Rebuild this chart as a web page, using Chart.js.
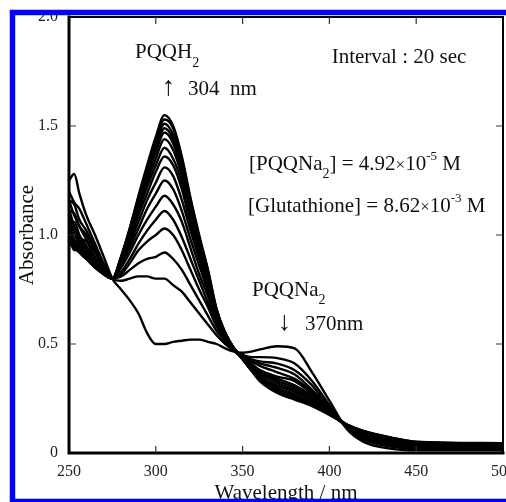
<!DOCTYPE html>
<html>
<head>
<meta charset="utf-8">
<script src="https://cdn.jsdelivr.net/npm/chart.js@4.4.0/dist/chart.umd.min.js"></script>
<style>
  html, body { margin: 0; padding: 0; background: #fff; }
  #wrap { width: 506px; height: 502px; position: relative; }
</style>
</head>
<body>
<div id="wrap"><canvas id="spectra"></canvas></div>
<script>
// ── DATA ─────────────────────────────────────────────────────────────
const wavelengths = [250, 253, 256, 260, 265, 270, 275, 280, 285, 290, 295, 300, 305, 310, 315, 320,
  325, 330, 335, 340, 345, 350, 355, 360, 370, 380, 390, 400, 410, 420, 435, 450, 500];

// one spectrum every 20 sec
const s0   = [1.25, 1.28, 1.19, 1.09, 1.00, 0.90, 0.80, 0.75, 0.70, 0.64, 0.55, 0.50, 0.50, 0.51, 0.515, 0.52,
  0.52, 0.51, 0.50, 0.48, 0.465, 0.46, 0.465, 0.475, 0.49, 0.48, 0.37, 0.24, 0.11, 0.05, 0.02, 0.012, 0.012];
const s20  = [1.20, 1.15, 1.12, 1.05, 0.96, 0.87, 0.80, 0.79, 0.80, 0.81, 0.81, 0.80, 0.80, 0.77, 0.74, 0.69,
  0.64, 0.59, 0.54, 0.50, 0.47, 0.45, 0.44, 0.44, 0.435, 0.41, 0.33, 0.22, 0.115, 0.06, 0.03, 0.018, 0.015];
const s40  = [1.16, 1.14, 1.07, 1.02, 0.94, 0.86, 0.80, 0.81, 0.84, 0.87, 0.89, 0.90, 0.92, 0.89, 0.84, 0.77,
  0.70, 0.63, 0.56, 0.51, 0.47, 0.45, 0.43, 0.42, 0.41, 0.38, 0.31, 0.21, 0.12, 0.066, 0.037, 0.023, 0.02];
const s60  = [1.16, 1.09, 1.04, 1.00, 0.93, 0.85, 0.80, 0.82, 0.87, 0.93, 0.97, 1.00, 1.03, 1.00, 0.93, 0.84,
  0.75, 0.67, 0.58, 0.52, 0.47, 0.44, 0.42, 0.41, 0.39, 0.36, 0.29, 0.21, 0.12, 0.07, 0.043, 0.029, 0.024];
const s80  = [1.11, 1.10, 1.04, 0.98, 0.92, 0.85, 0.80, 0.83, 0.89, 0.96, 1.02, 1.07, 1.11, 1.07, 0.99, 0.89,
  0.79, 0.69, 0.59, 0.52, 0.47, 0.44, 0.42, 0.40, 0.37, 0.34, 0.28, 0.20, 0.12, 0.076, 0.047, 0.032, 0.027];
const s100 = [1.12, 1.04, 0.99, 0.97, 0.90, 0.84, 0.80, 0.85, 0.92, 1.00, 1.07, 1.13, 1.18, 1.14, 1.06, 0.94,
  0.82, 0.72, 0.60, 0.53, 0.47, 0.44, 0.41, 0.38, 0.35, 0.33, 0.27, 0.20, 0.12, 0.08, 0.051, 0.035, 0.03];
const s120 = [1.06, 1.06, 1.00, 0.95, 0.89, 0.84, 0.80, 0.86, 0.94, 1.03, 1.12, 1.19, 1.25, 1.21, 1.11, 0.98,
  0.86, 0.74, 0.61, 0.53, 0.48, 0.44, 0.40, 0.37, 0.34, 0.31, 0.26, 0.19, 0.12, 0.084, 0.055, 0.038, 0.033];
const s140 = [1.09, 1.01, 0.98, 0.94, 0.89, 0.84, 0.80, 0.87, 0.96, 1.06, 1.16, 1.24, 1.31, 1.27, 1.16, 1.02,
  0.89, 0.76, 0.62, 0.53, 0.48, 0.44, 0.40, 0.37, 0.33, 0.30, 0.25, 0.19, 0.125, 0.087, 0.059, 0.041, 0.035];
const s160 = [1.03, 1.03, 0.97, 0.93, 0.88, 0.83, 0.80, 0.87, 0.97, 1.09, 1.19, 1.29, 1.36, 1.32, 1.21, 1.05,
  0.91, 0.78, 0.63, 0.54, 0.48, 0.44, 0.39, 0.36, 0.32, 0.29, 0.24, 0.19, 0.13, 0.09, 0.062, 0.044, 0.038];
const s180 = [1.05, 0.98, 0.94, 0.92, 0.87, 0.83, 0.80, 0.88, 0.98, 1.11, 1.22, 1.32, 1.40, 1.35, 1.24, 1.07,
  0.93, 0.79, 0.64, 0.54, 0.48, 0.43, 0.39, 0.35, 0.31, 0.28, 0.24, 0.18, 0.13, 0.092, 0.064, 0.045, 0.039];
const s200 = [1.00, 1.00, 0.95, 0.91, 0.87, 0.83, 0.80, 0.88, 1.00, 1.13, 1.24, 1.35, 1.44, 1.39, 1.27, 1.10,
  0.95, 0.80, 0.64, 0.54, 0.48, 0.43, 0.39, 0.35, 0.30, 0.27, 0.23, 0.18, 0.13, 0.094, 0.066, 0.047, 0.041];
const s220 = [1.02, 0.96, 0.94, 0.91, 0.86, 0.83, 0.80, 0.89, 1.01, 1.14, 1.26, 1.38, 1.47, 1.42, 1.29, 1.12,
  0.96, 0.81, 0.65, 0.55, 0.48, 0.43, 0.39, 0.34, 0.29, 0.26, 0.23, 0.18, 0.13, 0.096, 0.067, 0.048, 0.042];
const s240 = [0.99, 0.93, 0.96, 0.90, 0.86, 0.82, 0.80, 0.89, 1.01, 1.15, 1.28, 1.40, 1.49, 1.44, 1.31, 1.13,
  0.97, 0.82, 0.65, 0.55, 0.48, 0.43, 0.38, 0.34, 0.29, 0.26, 0.22, 0.18, 0.13, 0.097, 0.069, 0.049, 0.043];
const s260 = [1.01, 0.95, 0.93, 0.90, 0.86, 0.82, 0.80, 0.90, 1.02, 1.16, 1.30, 1.42, 1.51, 1.46, 1.33, 1.15,
  0.98, 0.83, 0.65, 0.55, 0.48, 0.43, 0.38, 0.34, 0.28, 0.25, 0.22, 0.18, 0.13, 0.098, 0.07, 0.05, 0.044];
const s280 = [0.97, 0.94, 0.92, 0.89, 0.85, 0.82, 0.80, 0.90, 1.03, 1.17, 1.31, 1.44, 1.53, 1.49, 1.35, 1.16,
  0.99, 0.84, 0.66, 0.55, 0.48, 0.43, 0.38, 0.33, 0.28, 0.25, 0.22, 0.18, 0.13, 0.10, 0.071, 0.051, 0.044];
const s300 = [0.95, 0.97, 0.92, 0.89, 0.85, 0.82, 0.80, 0.90, 1.03, 1.18, 1.32, 1.45, 1.55, 1.50, 1.36, 1.17,
  1.00, 0.84, 0.66, 0.55, 0.48, 0.43, 0.38, 0.33, 0.275, 0.245, 0.215, 0.175, 0.13, 0.10, 0.072, 0.052, 0.045];

const spectra = [s0, s20, s40, s60, s80, s100, s120, s140, s160, s180, s200, s220, s240, s260, s280, s300];

const xTickValues = [250, 300, 350, 400, 450, 500];
const xTickLabels = ['250', '300', '350', '400', '450', '500'];
const yTickValues = [0, 0.5, 1.0, 1.5, 2.0];
const yTickLabels = ['0', '0.5', '1.0', '1.5', '2.0'];

const SERIF = "'Liberation Serif', 'Times New Roman', serif";

// ── ANNOTATIONS (anchored in data coordinates) ───────────────────────
const notes = [
  { wl: 288.0, a: 1.812, parts: [{ t: 'PQQH' }, { t: '2', size: 14, dy: 9 }] },
  { wl: 303.4, a: 1.642, parts: [{ t: '\u2191', size: 27 }] },
  { wl: 318.5, a: 1.642, parts: [{ t: '304  nm' }] },
  { wl: 401.3, a: 1.787, parts: [{ t: 'Interval : 20 sec' }] },
  { wl: 353.7, a: 1.298, parts: [{ t: '[PQQNa' }, { t: '2', size: 14, dy: 8 }, { t: '] = 4.92' },
      { t: '\u00d7', size: 17 }, { t: '10' }, { t: '-5', size: 13, dy: -10 }, { t: ' M' }] },
  { wl: 353.1, a: 1.106, parts: [{ t: '[Glutathione] = 8.62' }, { t: '\u00d7', size: 17 }, { t: '10' },
      { t: '-3', size: 13, dy: -10 }, { t: ' M' }] },
  { wl: 355.4, a: 0.718, parts: [{ t: 'PQQNa' }, { t: '2', size: 14, dy: 8 }] },
  { wl: 370.3, a: 0.562, parts: [{ t: '\u2193', size: 27 }] },
  { wl: 386.0, a: 0.562, parts: [{ t: '370nm' }] }
];

// ── FRAME, INWARD TICKS, TEXT, BLUE BORDER ───────────────────────────
const framePlugin = {
  id: 'frame',
  afterDatasetsDraw(chart) {
    const { ctx, chartArea: ca, scales } = chart;
    ctx.save();
    ctx.strokeStyle = '#000';
    ctx.lineCap = 'square';
    ctx.lineWidth = 3;
    ctx.beginPath();
    ctx.moveTo(ca.left, ca.top); ctx.lineTo(ca.left, ca.bottom); ctx.lineTo(ca.right, ca.bottom);
    ctx.stroke();
    ctx.lineWidth = 2;
    ctx.beginPath();
    ctx.moveTo(ca.left, ca.top); ctx.lineTo(ca.right, ca.top); ctx.lineTo(ca.right, ca.bottom);
    ctx.stroke();

    ctx.lineWidth = 1.2;
    ctx.lineCap = 'butt';
    ctx.strokeStyle = '#333';
    const len = 7;
    ctx.beginPath();
    xTickValues.slice(1, -1).forEach(v => {
      const x = scales.x.getPixelForValue(v);
      ctx.moveTo(x, ca.bottom); ctx.lineTo(x, ca.bottom - len);
      ctx.moveTo(x, ca.top); ctx.lineTo(x, ca.top + len);
    });
    yTickValues.slice(1, -1).forEach(v => {
      const y = scales.y.getPixelForValue(v);
      ctx.moveTo(ca.left, y); ctx.lineTo(ca.left + len, y);
      ctx.moveTo(ca.right, y); ctx.lineTo(ca.right - len, y);
    });
    ctx.stroke();
    ctx.restore();
  },
  afterDraw(chart) {
    const { ctx, scales } = chart;
    ctx.save();
    ctx.fillStyle = '#111';
    ctx.textBaseline = 'alphabetic';
    ctx.textAlign = 'left';
    notes.forEach(n => {
      let x = scales.x.getPixelForValue(n.wl);
      const y = scales.y.getPixelForValue(n.a);
      n.parts.forEach(p => {
        ctx.font = (p.size || 21) + 'px ' + SERIF;
        ctx.fillText(p.t, x, y + (p.dy || 0));
        x += ctx.measureText(p.t).width;
      });
    });

    ctx.strokeStyle = '#0000ff';
    ctx.lineWidth = 5.5;
    ctx.strokeRect(12.5, 12.5, 520, 489);
    ctx.restore();
  }
};

// ── CHART ────────────────────────────────────────────────────────────
new Chart(document.getElementById('spectra'), {
  type: 'line',
  data: {
    datasets: spectra.map((s, i) => ({
      label: (i * 20) + ' s',
      data: wavelengths.map((w, j) => ({ x: w, y: s[j] })),
      borderColor: '#000',
      borderWidth: 2.4,
      pointRadius: 0,
      cubicInterpolationMode: 'monotone',
      fill: false
    }))
  },
  options: {
    responsive: true,
    maintainAspectRatio: false,
    animation: false,
    layout: { padding: { top: 17, right: 3, bottom: 0, left: 0 } },
    plugins: { legend: { display: false }, tooltip: { enabled: false } },
    scales: {
      x: {
        type: 'linear', min: 250, max: 500,
        grid: { display: false, drawTicks: false },
        border: { display: false },
        afterBuildTicks: s => { s.ticks = xTickValues.map(v => ({ value: v })); },
        ticks: {
          padding: 9, color: '#222', maxRotation: 0, autoSkip: false,
          font: { family: SERIF, size: 16 },
          callback: v => xTickLabels[xTickValues.indexOf(v)]
        },
        title: {
          display: true, text: 'Wavelength / nm', color: '#111', padding: 0,
          font: { family: SERIF, size: 21, lineHeight: 0.8 }
        },
        afterFit: s => { s.height = 49; s.paddingLeft = 0; s.paddingRight = 0; }
      },
      y: {
        min: 0, max: 2,
        grid: { display: false, drawTicks: false },
        border: { display: false },
        afterBuildTicks: s => { s.ticks = yTickValues.map(v => ({ value: v })); },
        ticks: {
          padding: 11, color: '#222',
          font: { family: SERIF, size: 16 },
          callback: v => yTickLabels[yTickValues.indexOf(v)]
        },
        title: {
          display: true, text: 'Absorbance', color: '#111', padding: { top: 15, bottom: 0 },
          font: { family: SERIF, size: 21 }
        },
        afterFit: s => { s.width = 69; s.paddingTop = 0; s.paddingBottom = 0; }
      }
    }
  },
  plugins: [framePlugin]
});
</script>
</body>
</html>
